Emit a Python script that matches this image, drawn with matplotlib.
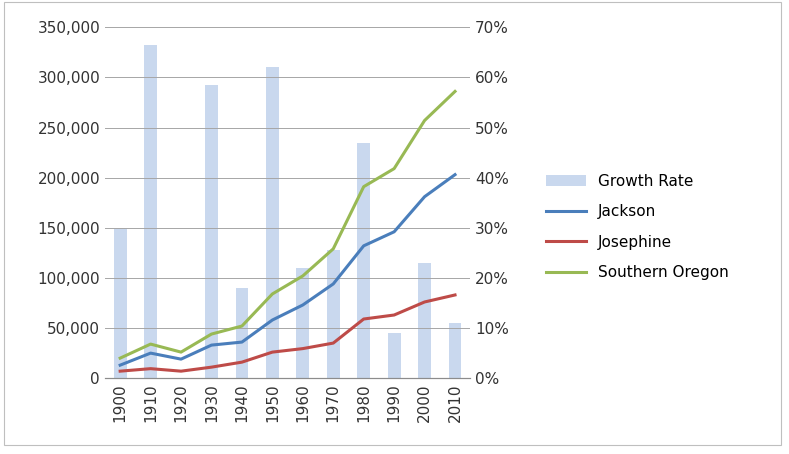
import matplotlib.pyplot as plt
from matplotlib.ticker import FuncFormatter, PercentFormatter

years = ['1900', '1910', '1920', '1930', '1940', '1950', '1960', '1970', '1980', '1990', '2000', '2010']
growth = [30, 66.5, 0, 58.5, 18, 62, 22, 25.5, 47, 9, 23, 11]
jackson = [13000, 25000, 19000, 33000, 36000, 58000, 73000, 94000, 132000, 146000, 181000, 203000]
josephine = [7000, 9500, 7000, 11000, 16000, 26000, 29500, 35000, 59000, 63000, 76000, 83000]
southern = [20000, 34000, 26000, 44000, 52000, 84000, 102000, 129000, 191000, 209000, 257000, 286000]

fig = plt.figure(figsize=(7.89, 4.54), dpi=100)
ax = fig.add_axes([0.133, 0.167, 0.463, 0.773])
ax2 = ax.twinx()

# bars sit behind the lines
ax.set_zorder(2)
ax.patch.set_visible(False)
x = range(len(years))
ax2.bar(x, growth, width=0.42, color='#c9d8ee', label='Growth Rate')
ax.plot(x, jackson, color='#4a7ebb', lw=2.2, label='Jackson')
ax.plot(x, josephine, color='#be4b48', lw=2.2, label='Josephine')
ax.plot(x, southern, color='#98b954', lw=2.2, label='Southern Oregon')

ax.set_ylim(0, 350000)
ax2.set_ylim(0, 70)
ax.set_xlim(-0.5, len(years) - 0.5)
ax.set_yticks(range(0, 350001, 50000))
ax2.set_yticks(range(0, 71, 10))
ax.yaxis.set_major_formatter(FuncFormatter(lambda v, p: f'{int(v):,}'))
ax2.yaxis.set_major_formatter(PercentFormatter(decimals=0))
ax.set_xticks(list(x))
ax.set_xticklabels(years, rotation=90)
ax.yaxis.grid(True, color='#a6a6a6', lw=0.7)
ax.set_axisbelow(True)
for a in (ax, ax2):
    a.tick_params(labelsize=11, colors='#333333', length=0)
    for s in ('top', 'left', 'right'):
        a.spines[s].set_visible(False)
    a.spines['bottom'].set_color('#8c8c8c')

h1, l1 = ax2.get_legend_handles_labels()
h2, l2 = ax.get_legend_handles_labels()
fig.legend(h1 + h2, l1 + l2, loc='center left', bbox_to_anchor=(0.675, 0.50),
           frameon=False, fontsize=11, handlelength=2.6, labelspacing=1.0)

fig.patches.append(plt.Rectangle((0.005, 0.02), 0.985, 0.975, transform=fig.transFigure,
                                 fill=False, edgecolor='#bfbfbf', lw=0.8))

plt.savefig('out.png', dpi=100)
